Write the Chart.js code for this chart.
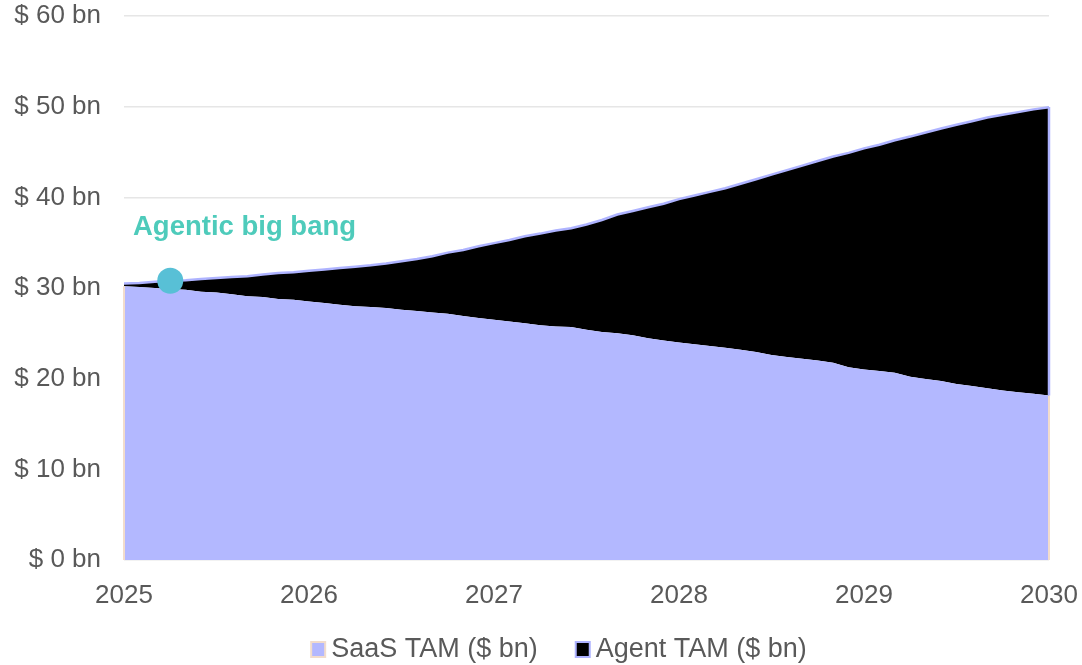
<!DOCTYPE html>
<html>
<head>
<meta charset="utf-8">
<title>SaaS vs Agent TAM</title>
<script src="https://cdn.jsdelivr.net/npm/chart.js@4.4.1/dist/chart.umd.min.js"></script>
<style>
  html, body { margin: 0; padding: 0; background: #ffffff; }
  #wrap { width: 1082px; height: 665px; }
  canvas { display: block; }
</style>
</head>
<body>
<div id="wrap"><canvas id="tam" width="1082" height="665"></canvas></div>
<script>
// Monthly series, Jan 2025 .. Jan 2030 (61 months), $ bn
const startYear = 2025;
const endYear = 2030;
const yearTicks = [2025, 2026, 2027, 2028, 2029, 2030];

const saasTam = [
  30.2, 30.1, 30.0, 29.9, 29.8, 29.6, 29.5, 29.3, 29.1, 29.0, 28.8, 28.7,
  28.5, 28.35, 28.15, 28.0, 27.9, 27.8, 27.6, 27.45, 27.3, 27.15, 26.9, 26.7,
  26.5, 26.3, 26.1, 25.9, 25.75, 25.7, 25.4, 25.15, 25.0, 24.8, 24.45, 24.2,
  24.0, 23.8, 23.6, 23.4, 23.2, 22.95, 22.6, 22.4, 22.2, 22.0, 21.75, 21.25,
  21.0, 20.85, 20.65, 20.2, 19.95, 19.75, 19.4, 19.2, 18.95, 18.7, 18.5, 18.35,
  18.15
];

const agentTam = [
  0.3, 0.45, 0.7, 0.9, 1.05, 1.4, 1.6, 1.9, 2.2, 2.5, 2.85, 3.05,
  3.4, 3.7, 4.05, 4.35, 4.6, 4.9, 5.35, 5.75, 6.2, 6.75, 7.3, 7.9,
  8.45, 9.0, 9.6, 10.1, 10.6, 10.9, 11.6, 12.35, 13.1, 13.7, 14.45, 15.1,
  15.8, 16.4, 17.0, 17.6, 18.3, 19.05, 19.9, 20.6, 21.3, 22.0, 22.75, 23.65,
  24.4, 24.95, 25.65, 26.5, 27.2, 27.85, 28.6, 29.2, 29.85, 30.4, 30.9, 31.35,
  31.8
];

// Month index of the highlighted event
const bigBangMonth = 3;
const bigBangLabel = 'Agentic big bang';

const seriesNames = ['SaaS TAM ($ bn)', 'Agent TAM ($ bn)'];

const FONT = '"Liberation Sans", Arial, sans-serif';
const TEXT = '#595959';
const SAAS_FILL = '#b3b8ff';
const SAAS_EDGE = '#f2dccb';
const AGENT_FILL = '#000000';
const AGENT_EDGE = '#aeb3ff';
const DOT = '#58c0d6';
const NOTE = '#4ecbbb';

const monthX = (i) => startYear + i / 12;
const toPoints = (arr) => arr.map((v, i) => ({ x: monthX(i), y: v }));

const bigBangTotal = saasTam[bigBangMonth] + agentTam[bigBangMonth];

// Outline the vertical ends of both areas and write the event note
const areaEdges = {
  id: 'areaEdges',
  afterDatasetsDraw(chart) {
    const { ctx, scales: { x, y } } = chart;
    const last = saasTam.length - 1;
    const x0 = x.getPixelForValue(monthX(0));
    const x1 = x.getPixelForValue(monthX(last));
    const yZero = y.getPixelForValue(0);
    ctx.save();
    ctx.lineWidth = 2;
    ctx.strokeStyle = SAAS_EDGE;
    ctx.beginPath();
    ctx.moveTo(x0, yZero);
    ctx.lineTo(x0, y.getPixelForValue(saasTam[0]));
    ctx.moveTo(x1, yZero);
    ctx.lineTo(x1, y.getPixelForValue(saasTam[last]));
    ctx.stroke();
    ctx.lineWidth = 2.5;
    ctx.strokeStyle = AGENT_EDGE;
    ctx.beginPath();
    ctx.moveTo(x1, y.getPixelForValue(saasTam[last]));
    ctx.lineTo(x1, y.getPixelForValue(saasTam[last] + agentTam[last]));
    ctx.stroke();

    // event note above the marker
    const dotY = y.getPixelForValue(bigBangTotal);
    ctx.font = 'bold 27.5px ' + FONT;
    ctx.fillStyle = NOTE;
    ctx.textAlign = 'left';
    ctx.textBaseline = 'middle';
    ctx.fillText(bigBangLabel, x0 + 9, dotY - 53);
    ctx.restore();
  }
};

// Series key along the bottom edge
const seriesKey = {
  id: 'seriesKey',
  afterDraw(chart) {
    const { ctx } = chart;
    const items = [
      { text: seriesNames[0], fill: SAAS_FILL, edge: SAAS_EDGE },
      { text: seriesNames[1], fill: AGENT_FILL, edge: AGENT_EDGE }
    ];
    const box = 14, boxGap = 6, itemGap = 38;
    ctx.save();
    ctx.font = '27px ' + FONT;
    const widths = items.map((it) => ctx.measureText(it.text).width);
    const total = items.length * (box + boxGap) + widths.reduce((a, b) => a + b, 0) + itemGap * (items.length - 1);
    let cx = chart.width / 2 + 18 - total / 2;
    const cy = chart.height - 15;
    ctx.textAlign = 'left';
    ctx.textBaseline = 'middle';
    items.forEach((it, i) => {
      ctx.fillStyle = it.fill;
      ctx.fillRect(cx, cy - 8, box, 15);
      ctx.lineWidth = 2;
      ctx.strokeStyle = it.edge;
      ctx.strokeRect(cx, cy - 8, box, 15);
      ctx.fillStyle = TEXT;
      ctx.fillText(it.text, cx + box + boxGap, cy);
      cx += box + boxGap + widths[i] + itemGap;
    });
    ctx.restore();
  }
};

new Chart(document.getElementById('tam'), {
  type: 'line',
  data: {
    datasets: [
      {
        label: seriesNames[0],
        data: toPoints(saasTam),
        fill: 'origin',
        backgroundColor: SAAS_FILL,
        borderColor: SAAS_EDGE,
        borderWidth: 0,
        pointRadius: 0,
        tension: 0,
        order: 1
      },
      {
        label: seriesNames[1],
        data: toPoints(agentTam),
        fill: '-1',
        backgroundColor: AGENT_FILL,
        borderColor: AGENT_EDGE,
        borderWidth: 2.5,
        pointRadius: 0,
        tension: 0,
        order: 2
      },
      {
        label: bigBangLabel,
        data: [{ x: monthX(bigBangMonth), y: bigBangTotal }],
        stack: 'marker',
        showLine: false,
        fill: false,
        pointRadius: 13,
        pointBackgroundColor: DOT,
        pointBorderWidth: 0,
        borderWidth: 0,
        order: 0
      }
    ]
  },
  options: {
    responsive: false,
    animation: false,
    devicePixelRatio: 1,
    layout: { padding: { left: 0, right: 33, top: 16, bottom: 0 } },
    plugins: {
      tooltip: { enabled: false },
      legend: { display: false }
    },
    scales: {
      x: {
        type: 'linear',
        min: startYear,
        max: endYear,
        afterBuildTicks: (axis) => { axis.ticks = yearTicks.map((v) => ({ value: v })); },
        afterFit: (axis) => {
          axis.height = 105;
          axis.paddingLeft = 0;
          axis.paddingRight = 0;
        },
        grid: { display: false, drawTicks: false },
        border: { display: false },
        ticks: {
          callback: (v) => String(v),
          font: { family: FONT, size: 26 },
          color: TEXT,
          padding: 20,
          maxRotation: 0
        }
      },
      y: {
        stacked: true,
        min: 0,
        max: 60,
        afterFit: (axis) => {
          axis.width = 124;
          axis.paddingTop = 0;
          axis.paddingBottom = 0;
        },
        grid: { color: '#e6e6e6', lineWidth: 1.5, drawTicks: false },
        border: { display: false },
        ticks: {
          stepSize: 10,
          callback: (v) => '$ ' + v + ' bn',
          font: { family: FONT, size: 26 },
          color: TEXT,
          padding: 23
        }
      }
    }
  },
  plugins: [areaEdges, seriesKey]
});
</script>
</body>
</html>
